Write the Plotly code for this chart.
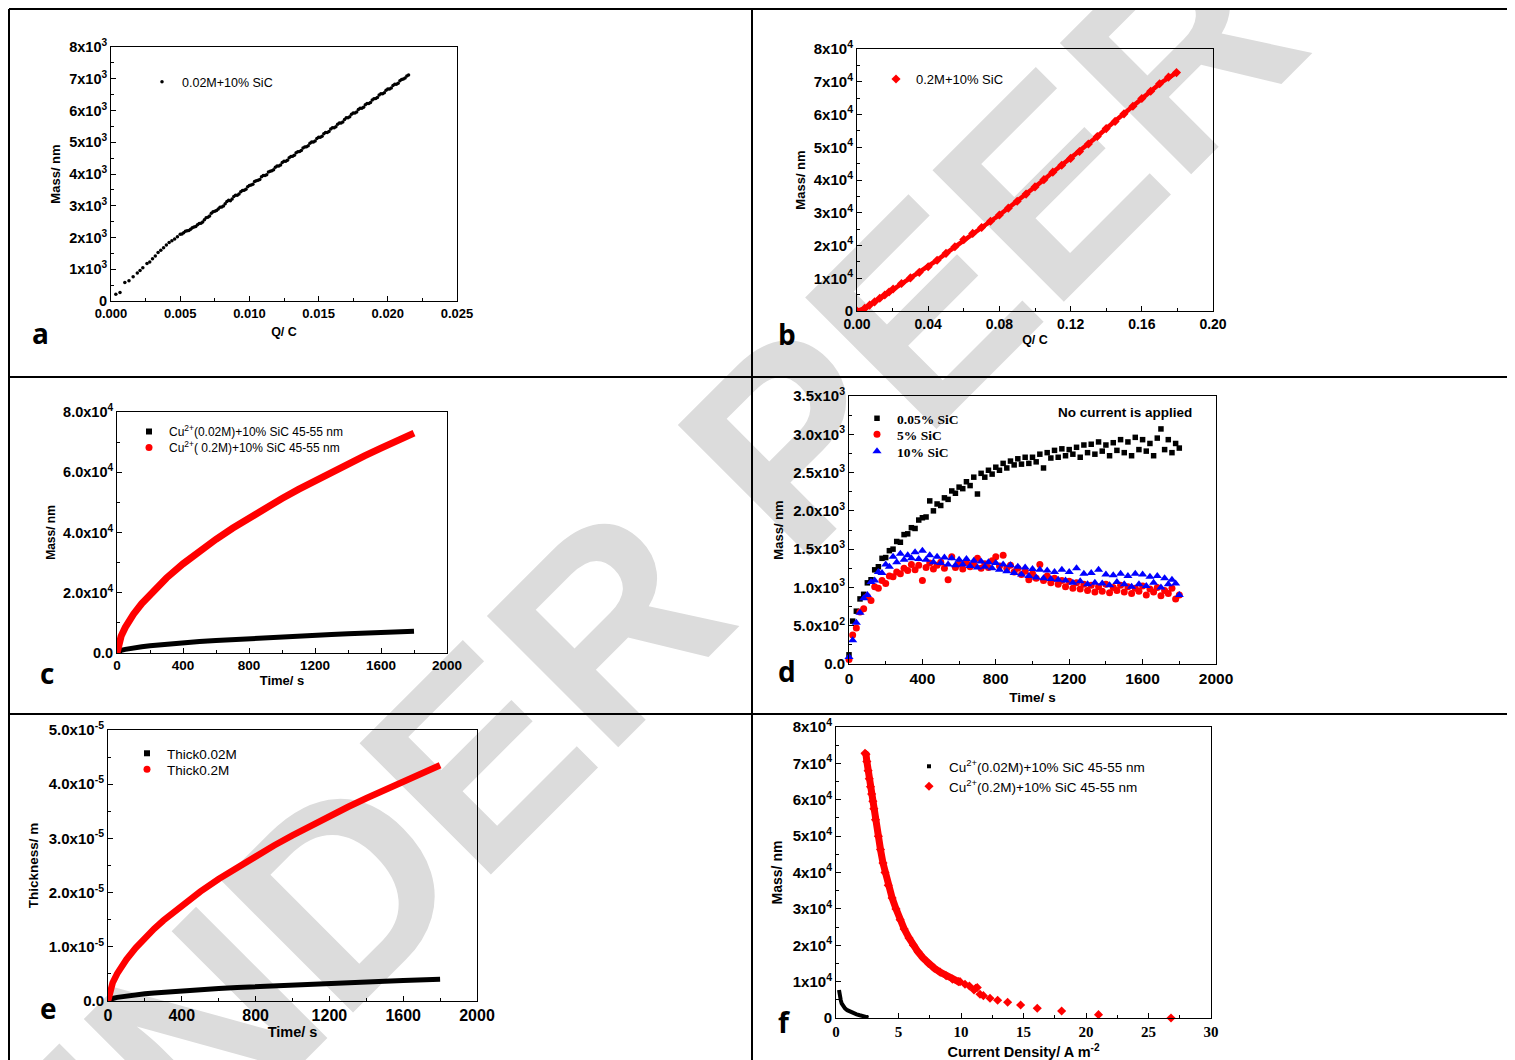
import plotly.graph_objects as go

W, H = 1515, 1060
OFF = 8  # page body margin offset in the browser

# ---------------- data ----------------
# (a) mass vs charge, 0.02M + 10% SiC
a_charge = [0.00035, 0.00065, 0.0010, 0.0013, 0.0016, 0.0019, 0.0021, 0.0023, 0.0026, 0.0028,
            0.0030, 0.0032, 0.0034, 0.0036, 0.0038, 0.0040, 0.0042, 0.0044, 0.0046, 0.0048, 0.0050,
            0.00525, 0.0055, 0.00575, 0.0060, 0.00625, 0.0065, 0.00675, 0.0070, 0.00725, 0.0075,
            0.00775, 0.0080, 0.00825, 0.0085, 0.00875, 0.0090, 0.00925, 0.0095, 0.00975, 0.0100,
            0.01025, 0.0105, 0.01075, 0.0110, 0.01125, 0.0115, 0.01175, 0.0120, 0.01225, 0.0125,
            0.01275, 0.0130, 0.01325, 0.0135, 0.01375, 0.0140, 0.01425, 0.0145, 0.01475, 0.0150,
            0.01525, 0.0155, 0.01575, 0.0160, 0.01625, 0.0165, 0.01675, 0.0170, 0.01725, 0.0175,
            0.01775, 0.0180, 0.01825, 0.0185, 0.01875, 0.0190, 0.01925, 0.0195, 0.01975, 0.0200,
            0.02025, 0.0205, 0.02075, 0.0210, 0.02125, 0.0215]
a_mass = [210, 265, 580, 640, 760, 880, 960, 1050, 1180, 1230,
          1330, 1420, 1530, 1600, 1680, 1760, 1840, 1900, 1950, 2020, 2100,
          2150, 2210, 2260, 2330, 2400, 2450, 2560, 2640, 2760, 2830,
          2900, 2960, 3060, 3170, 3210, 3330, 3370, 3480, 3520, 3640,
          3680, 3790, 3830, 3950, 3980, 4090, 4130, 4250, 4280, 4400,
          4430, 4550, 4590, 4700, 4740, 4850, 4890, 5010, 5040, 5160,
          5190, 5310, 5340, 5460, 5490, 5610, 5640, 5770, 5800, 5920,
          5950, 6070, 6100, 6220, 6250, 6370, 6410, 6530, 6560, 6680,
          6710, 6830, 6860, 6980, 7020, 7120]
a_charge_mid = [0.005125, 0.005375, 0.005625, 0.005875, 0.006125, 0.006375, 0.006625, 0.006875,
                0.007125, 0.007375, 0.007625, 0.007875, 0.008125, 0.008375, 0.008625, 0.008875,
                0.009125, 0.009375, 0.009625, 0.009875, 0.010125, 0.010375, 0.010625, 0.010875,
                0.011125, 0.011375, 0.011625, 0.011875, 0.012125, 0.012375, 0.012625, 0.012875,
                0.013125, 0.013375, 0.013625, 0.013875, 0.014125, 0.014375, 0.014625, 0.014875,
                0.015125, 0.015375, 0.015625, 0.015875, 0.016125, 0.016375, 0.016625, 0.016875,
                0.017125, 0.017375, 0.017625, 0.017875, 0.018125, 0.018375, 0.018625, 0.018875,
                0.019125, 0.019375, 0.019625, 0.019875, 0.020125, 0.020375, 0.020625, 0.020875,
                0.021125, 0.021375]
a_mass_mid = [2110, 2200, 2220, 2310, 2350, 2440, 2490, 2620, 2680, 2810, 2850, 2950, 2990, 3130,
              3160, 3290, 3330, 3440, 3490, 3600, 3650, 3760, 3800, 3910, 3950, 4060, 4100, 4210,
              4250, 4360, 4400, 4510, 4560, 4670, 4710, 4820, 4860, 4970, 5010, 5120, 5160, 5270,
              5310, 5420, 5460, 5570, 5610, 5720, 5770, 5880, 5920, 6030, 6070, 6180, 6220, 6330,
              6380, 6490, 6530, 6640, 6680, 6790, 6830, 6940, 6990, 7090]

# (b) mass vs charge, 0.2M + 10% SiC
b_charge = [0.0, 0.0043, 0.0071, 0.0099, 0.0128, 0.0156, 0.018, 0.0203, 0.025, 0.030, 0.035,
            0.040, 0.045, 0.050, 0.055, 0.060, 0.065, 0.070, 0.075, 0.080, 0.085, 0.090, 0.095,
            0.100, 0.105, 0.110, 0.115, 0.120, 0.125, 0.130, 0.135, 0.140, 0.145, 0.150, 0.155,
            0.160, 0.165, 0.170, 0.175, 0.1795]
b_mass = [0, 800, 1800, 2800, 3900, 4900, 5800, 6700, 8400, 10100, 11800,
          13500, 15500, 17600, 19600, 21800, 23700, 25500, 27400, 29300, 31400, 33500, 35700,
          37900, 40100, 42400, 44500, 46600, 48700, 51000, 53300, 55700, 57900, 60200, 62500,
          64900, 67100, 69400, 71400, 72800]

# (c) & (e) time series
ce_time = [0, 10, 25, 50, 75, 100, 150, 200, 250, 300, 400, 500, 600, 700, 800, 900, 1000,
           1100, 1200, 1300, 1400, 1500, 1600, 1700, 1800]
c_mass_002 = [0, 536, 849, 1200, 1470, 1697, 2078, 2400, 2683, 2939, 3394, 3795, 4157, 4490,
              4800, 5091, 5367, 5628, 5879, 6119, 6350, 6573, 6788, 6997, 7200]
c_mass_02 = [0, 3230, 5610, 8500, 10840, 12890, 16430, 19540, 22340, 24910, 29600, 33860, 37760,
             41420, 44870, 48160, 51300, 54330, 57240, 60060, 62780, 65440, 68020, 70540, 73000]
e_thick_002 = [0, 0.298e-6, 0.472e-6, 0.667e-6, 0.816e-6, 0.943e-6, 1.155e-6, 1.333e-6, 1.491e-6,
               1.633e-6, 1.886e-6, 2.108e-6, 2.310e-6, 2.494e-6, 2.667e-6, 2.828e-6, 2.982e-6,
               3.127e-6, 3.266e-6, 3.399e-6, 3.528e-6, 3.651e-6, 3.771e-6, 3.887e-6, 4.0e-6]
e_thick_02 = [0, 0.193e-5, 0.334e-5, 0.506e-5, 0.646e-5, 0.768e-5, 0.979e-5, 1.164e-5, 1.331e-5,
              1.485e-5, 1.764e-5, 2.018e-5, 2.250e-5, 2.468e-5, 2.674e-5, 2.870e-5, 3.057e-5,
              3.237e-5, 3.411e-5, 3.579e-5, 3.741e-5, 3.899e-5, 4.053e-5, 4.203e-5, 4.35e-5]

# (d) no current applied
d_time = [0, 20, 40, 60, 80, 100, 120, 140, 160, 180, 200, 220, 240, 260, 280, 300, 320, 340, 360,
          380, 400, 420, 440, 460, 480, 500, 520, 540, 560, 580, 600, 620, 640, 660, 680, 700, 720,
          740, 760, 780, 800, 820, 840, 860, 880, 900, 920, 940, 960, 980, 1000, 1020, 1040, 1060,
          1080, 1100, 1120, 1140, 1160, 1180, 1200, 1220, 1240, 1260, 1280, 1300, 1320, 1340, 1360,
          1380, 1400, 1420, 1440, 1460, 1480, 1500, 1520, 1540, 1560, 1580, 1600, 1620, 1640, 1660,
          1680, 1700, 1720, 1740, 1760, 1780, 1800]
d_sic005 = [120, 560, 690, 850, 910, 1060, 1100, 1230, 1270, 1380, 1390, 1480, 1500, 1600, 1590,
            1690, 1700, 1780, 1770, 1880, 1910, 1920, 2130, 2000, 2090, 2070, 2170, 2150, 2260, 2230,
            2310, 2290, 2380, 2330, 2440, 2220, 2490, 2440, 2530, 2480, 2570, 2530, 2620, 2560, 2650,
            2600, 2680, 2610, 2700, 2620, 2700, 2640, 2740, 2560, 2760, 2690, 2790, 2700, 2810, 2720,
            2800, 2740, 2830, 2700, 2860, 2760, 2870, 2740, 2900, 2780, 2860, 2720, 2890, 2790, 2930,
            2760, 2900, 2720, 2960, 2800, 2930, 2780, 2880, 2720, 2950, 3070, 2800, 2930, 2760, 2880,
            2820]
d_sic5 = [60, 380, 470, 680, 720, 880, 830, 1010, 990, 1090, 1050, 1150, 1140, 1200, 1180, 1250,
          1220, 1300, 1230, 1290, 1090, 1260, 1320, 1240, 1290, 1330, 1250, 1100, 1400, 1260, 1310,
          1240, 1330, 1270, 1300, 1380, 1250, 1310, 1260, 1350, 1400, 1280, 1420, 1250, 1290, 1200,
          1250, 1170, 1210, 1100, 1180, 1120, 1300, 1090, 1150, 1060, 1120, 1040, 1090, 1010, 1080,
          990, 1060, 980, 1040, 960, 1030, 940, 1010, 950, 1040, 930, 1000, 960, 1030, 940, 1010,
          920, 990, 950, 1020, 900, 980, 940, 1000, 890, 960, 920, 990, 850, 900]
d_sic10 = [90, 310, 540, 670, 860, 900, 1070, 1090, 1200, 1190, 1300, 1270, 1400, 1330, 1440, 1360,
           1420, 1380, 1460, 1370, 1480, 1360, 1420, 1330, 1400, 1320, 1390, 1300, 1380, 1290, 1360,
           1300, 1370, 1280, 1350, 1260, 1340, 1270, 1330, 1250, 1320, 1230, 1300, 1210, 1290, 1190,
           1270, 1170, 1260, 1150, 1240, 1130, 1230, 1120, 1220, 1110, 1200, 1100, 1230, 1090, 1200,
           1060, 1250, 1080, 1180, 1040, 1190, 1060, 1230, 1050, 1170, 1030, 1160, 1070, 1180, 1040,
           1150, 1010, 1180, 1040, 1170, 1020, 1140, 1060, 1150, 1000, 1120, 1040, 1100, 1050, 900]

# (f) mass vs current density
f_cd_002 = [0.24, 0.27, 0.32, 0.38, 0.45, 0.55, 0.72, 0.90, 1.12, 1.40, 1.65, 1.90, 2.19, 2.45, 2.60]
f_mass_002 = [7700, 6800, 5870, 4900, 4040, 3300, 2660, 2150, 1740, 1330, 1010, 760, 550, 280, 120]
f_cd_02_dense = [2.32, 2.40, 2.47, 2.57, 2.66, 2.76, 2.85, 2.95, 3.03, 3.16, 3.39, 3.56, 3.76, 3.92,
                 4.18, 4.49, 4.80, 5.13, 5.45, 5.84, 6.19, 6.56, 6.97, 7.39, 7.86, 8.33, 8.81, 9.31,
                 9.79]
f_mass_02_dense = [72800, 72500, 70500, 68000, 65800, 63600, 61600, 59600, 57500, 54500, 50000,
                   46300, 42600, 40000, 36500, 33000, 30000, 27000, 24500, 22000, 20000, 18200,
                   16500, 15000, 13700, 12600, 11600, 10700, 10000]
f_cd_02_sparse = [9.92, 10.32, 10.67, 11.04, 11.17, 11.30, 11.52, 11.79, 12.32, 12.93, 13.73, 14.77,
                  16.10, 18.05, 21.0, 26.8]
f_mass_02_sparse = [10000, 9270, 8800, 7700, 8170, 8400, 6510, 6150, 5410, 4860, 4310, 3580, 2660,
                    1930, 920, 0]

# tick labels
a_xticks = [0, 0.005, 0.010, 0.015, 0.020, 0.025]
a_xlabels = ["0.000", "0.005", "0.010", "0.015", "0.020", "0.025"]
a_yticks = [0, 1000, 2000, 3000, 4000, 5000, 6000, 7000, 8000]
a_ylabels = ["0"] + ["%dx10<sup>3</sup>" % k for k in range(1, 9)]
b_xticks = [0, 0.04, 0.08, 0.12, 0.16, 0.20]
b_xlabels = ["0.00", "0.04", "0.08", "0.12", "0.16", "0.20"]
b_yticks = [0, 1e4, 2e4, 3e4, 4e4, 5e4, 6e4, 7e4, 8e4]
b_ylabels = ["0"] + ["%dx10<sup>4</sup>" % k for k in range(1, 9)]
t_ticks = [0, 400, 800, 1200, 1600, 2000]
t_labels = ["0", "400", "800", "1200", "1600", "2000"]
c_yticks = [0, 2e4, 4e4, 6e4, 8e4]
c_ylabels = ["0.0", "2.0x10<sup>4</sup>", "4.0x10<sup>4</sup>", "6.0x10<sup>4</sup>", "8.0x10<sup>4</sup>"]
d_yticks = [0, 500, 1000, 1500, 2000, 2500, 3000, 3500]
d_ylabels = ["0.0", "5.0x10<sup>2</sup>", "1.0x10<sup>3</sup>", "1.5x10<sup>3</sup>", "2.0x10<sup>3</sup>",
             "2.5x10<sup>3</sup>", "3.0x10<sup>3</sup>", "3.5x10<sup>3</sup>"]
e_yticks = [0, 1e-5, 2e-5, 3e-5, 4e-5, 5e-5]
e_ylabels = ["0.0", "1.0x10<sup>-5</sup>", "2.0x10<sup>-5</sup>", "3.0x10<sup>-5</sup>",
             "4.0x10<sup>-5</sup>", "5.0x10<sup>-5</sup>"]
f_xticks = [0, 5, 10, 15, 20, 25, 30]
f_xlabels = ["0", "5", "10", "15", "20", "25", "30"]
f_yticks = b_yticks
f_ylabels = b_ylabels

# ---------------- layout helpers ----------------
SANS = "Liberation Sans"
SERIF = "Liberation Serif"
RED = "#ff0000"
BLUE = "#0000ff"


def PX(x):
    return (x - OFF) / W


def PY(y):
    return 1 - (y - OFF) / H


def dom_x(l, r):
    return [PX(l), PX(r)]


def dom_y(t, b):
    return [PY(b), PY(t)]


def mids(vals):
    return [(vals[i] + vals[i + 1]) / 2 for i in range(len(vals) - 1)]


def axis(dom, anchor, rng, tv, tt, title, tsize=13, tfam=SANS, titsize=11, standoff=4):
    return dict(domain=dom, anchor=anchor, range=rng, tickmode="array", tickvals=tv, ticktext=tt,
                automargin=False,
                ticks="inside", ticklen=5, tickwidth=1, tickcolor="black",
                minor=dict(tickmode="array", tickvals=mids(tv), ticks="inside", ticklen=3,
                           tickwidth=1, tickcolor="black", showgrid=False),
                showline=True, linecolor="black", linewidth=1, mirror=True,
                showgrid=False, zeroline=False,
                tickfont=dict(family=tfam, size=tsize, color="black", weight="bold"),
                title=dict(text=title, standoff=standoff,
                           font=dict(family=SANS, size=titsize, color="black", weight="bold")))


def legend(sx, sy, size=12, fam=SANS, weight="normal"):
    return dict(x=PX(sx - 21), y=PY(sy - 14), xanchor="left", yanchor="top",
                bgcolor="rgba(0,0,0,0)", borderwidth=0,
                font=dict(family=fam, size=size, color="black", weight=weight))


fig = go.Figure()

# (a)
fig.add_trace(go.Scatter(x=a_charge + a_charge_mid, y=a_mass + a_mass_mid, mode="markers",
                         name="0.02M+10% SiC",
                         marker=dict(color="black", size=3.5, symbol="circle"),
                         xaxis="x", yaxis="y", legend="legend"))
# (b)
fig.add_trace(go.Scatter(x=b_charge, y=b_mass, mode="lines+markers", showlegend=False,
                         line=dict(color=RED, width=4.5),
                         marker=dict(color=RED, size=7, symbol="diamond"),
                         xaxis="x2", yaxis="y2"))
fig.add_trace(go.Scatter(x=[None], y=[None], mode="markers", name="0.2M+10% SiC",
                         marker=dict(color=RED, size=7, symbol="diamond"),
                         xaxis="x2", yaxis="y2", legend="legend2"))
# (c)
fig.add_trace(go.Scatter(x=ce_time, y=c_mass_002, mode="lines", showlegend=False,
                         line=dict(color="black", width=5), xaxis="x3", yaxis="y3"))
fig.add_trace(go.Scatter(x=ce_time, y=c_mass_02, mode="lines", showlegend=False,
                         line=dict(color=RED, width=7), xaxis="x3", yaxis="y3"))
fig.add_trace(go.Scatter(x=[None], y=[None], mode="markers",
                         name="Cu<sup>2+</sup>(0.02M)+10% SiC 45-55 nm",
                         marker=dict(color="black", size=6, symbol="square"),
                         xaxis="x3", yaxis="y3", legend="legend3"))
fig.add_trace(go.Scatter(x=[None], y=[None], mode="markers",
                         name="Cu<sup>2+</sup>( 0.2M)+10% SiC 45-55 nm",
                         marker=dict(color=RED, size=7, symbol="circle"),
                         xaxis="x3", yaxis="y3", legend="legend4"))
# (d)
fig.add_trace(go.Scatter(x=d_time, y=d_sic005, mode="markers", name="0.05% SiC",
                         marker=dict(color="black", size=5.5, symbol="square"),
                         xaxis="x4", yaxis="y4", legend="legend5", cliponaxis=False))
fig.add_trace(go.Scatter(x=d_time, y=d_sic5, mode="markers", name="5% SiC",
                         marker=dict(color=RED, size=7, symbol="circle"),
                         xaxis="x4", yaxis="y4", legend="legend6", cliponaxis=False))
fig.add_trace(go.Scatter(x=d_time, y=d_sic10, mode="markers", name="10% SiC",
                         marker=dict(color=BLUE, size=8, symbol="triangle-up"),
                         xaxis="x4", yaxis="y4", legend="legend7", cliponaxis=False))
# (e)
fig.add_trace(go.Scatter(x=ce_time, y=e_thick_002, mode="lines", showlegend=False,
                         line=dict(color="black", width=5), xaxis="x5", yaxis="y5"))
fig.add_trace(go.Scatter(x=ce_time, y=e_thick_02, mode="lines", showlegend=False,
                         line=dict(color=RED, width=6.5), xaxis="x5", yaxis="y5"))
fig.add_trace(go.Scatter(x=[None], y=[None], mode="markers", name="Thick0.02M",
                         marker=dict(color="black", size=6, symbol="square"),
                         xaxis="x5", yaxis="y5", legend="legend8"))
fig.add_trace(go.Scatter(x=[None], y=[None], mode="markers", name="Thick0.2M",
                         marker=dict(color=RED, size=7, symbol="circle"),
                         xaxis="x5", yaxis="y5", legend="legend9"))
# (f)
fig.add_trace(go.Scatter(x=f_cd_002, y=f_mass_002, mode="lines", showlegend=False,
                         line=dict(color="black", width=4), xaxis="x6", yaxis="y6"))
fig.add_trace(go.Scatter(x=f_cd_02_dense, y=f_mass_02_dense, mode="lines+markers", showlegend=False,
                         line=dict(color=RED, width=7),
                         marker=dict(color=RED, size=7, symbol="diamond"),
                         xaxis="x6", yaxis="y6"))
fig.add_trace(go.Scatter(x=f_cd_02_sparse, y=f_mass_02_sparse, mode="markers", showlegend=False,
                         marker=dict(color=RED, size=7, symbol="diamond"),
                         xaxis="x6", yaxis="y6", cliponaxis=False))
fig.add_trace(go.Scatter(x=[None], y=[None], mode="markers",
                         name="Cu<sup>2+</sup>(0.02M)+10% SiC 45-55 nm",
                         marker=dict(color="black", size=4, symbol="square"),
                         xaxis="x6", yaxis="y6", legend="legend10"))
fig.add_trace(go.Scatter(x=[None], y=[None], mode="markers",
                         name="Cu<sup>2+</sup>(0.2M)+10% SiC 45-55 nm",
                         marker=dict(color=RED, size=7, symbol="diamond"),
                         xaxis="x6", yaxis="y6", legend="legend11"))

layout = dict(
    width=W, height=H, margin=dict(l=0, r=0, t=0, b=0, autoexpand=False),
    paper_bgcolor="white", plot_bgcolor="rgba(0,0,0,0)", showlegend=True,
    xaxis=axis(dom_x(111, 457), "y", [0, 0.025], a_xticks, a_xlabels, "Q/ C", tsize=13,
               titsize=12.5, standoff=7),
    yaxis=axis(dom_y(47, 301), "x", [0, 8000], a_yticks, a_ylabels, "Mass/ nm", tsize=14.5,
               titsize=13, standoff=5),
    xaxis2=axis(dom_x(857, 1213), "y2", [0, 0.20], b_xticks, b_xlabels, "Q/ C", tsize=14,
                titsize=12.5, standoff=4),
    yaxis2=axis(dom_y(49, 311), "x2", [0, 80000], b_yticks, b_ylabels, "Mass/ nm", tsize=15,
                titsize=13, standoff=5),
    xaxis3=axis(dom_x(117, 447), "y3", [0, 2000], t_ticks, t_labels, "Time/ s", tsize=13.5,
                titsize=13, standoff=1),
    yaxis3=axis(dom_y(412, 653), "x3", [0, 80000], c_yticks, c_ylabels, "Mass/ nm", tsize=14.5,
                titsize=12, standoff=4),
    xaxis4=axis(dom_x(849, 1216), "y4", [0, 2000], t_ticks, t_labels, "Time/ s", tsize=15.5,
                titsize=13.5, standoff=6),
    yaxis4=axis(dom_y(396, 664), "x4", [0, 3500], d_yticks, d_ylabels, "Mass/ nm", tsize=15,
                titsize=13, standoff=6),
    xaxis5=axis(dom_x(108, 477), "y5", [0, 2000], t_ticks, t_labels, "Time/ s", tsize=16,
                titsize=14.5, standoff=0),
    yaxis5=axis(dom_y(730, 1001), "x5", [0, 5e-5], e_yticks, e_ylabels, "Thickness/ m", tsize=15,
                titsize=13.5, standoff=7),
    xaxis6=axis(dom_x(836, 1211), "y6", [0, 30], f_xticks, f_xlabels,
                "Current Density/ A m<sup>-2</sup>", tsize=15, tfam=SERIF, titsize=14.5, standoff=7),
    yaxis6=axis(dom_y(727, 1018), "x6", [0, 80000], f_yticks, f_ylabels, "Mass/ nm", tsize=15,
                titsize=14, standoff=6),
    legend=legend(163, 81, 12.5),
    legend2=legend(897, 78, 13),
    legend3=legend(150, 431, 12),
    legend4=legend(150, 447, 12),
    legend5=legend(878, 417, 13.5, SERIF, "bold"),
    legend6=legend(878, 433, 13.5, SERIF, "bold"),
    legend7=legend(878, 450, 13.5, SERIF, "bold"),
    legend8=legend(148, 752, 13.5),
    legend9=legend(148, 768, 13.5),
    legend10=legend(930, 765, 13.5),
    legend11=legend(930, 785, 13.5),
)
fig.update_layout(**layout)

# watermark (drawn below the data)
fig.add_shape(type="rect", xref="paper", yref="paper", x0=PX(918), x1=PX(1100), y0=PY(230),
              y1=PY(145), line=dict(width=0), fillcolor="rgba(0,0,0,0)", layer="below",
              label=dict(text="UNDER PEER REVIEW", textangle=-45, textposition="middle center",
                         font=dict(family=SANS, size=270, color="#dcdcdc", weight="bold")))

# table grid lines
for (x0, y0, x1, y1) in [(9, 9, 1509, 9), (9, 377, 1509, 377), (9, 714, 1509, 714),
                         (9, 9, 9, 1068), (1509, 9, 1509, 1068), (752, 9, 752, 1068)]:
    fig.add_shape(type="line", xref="paper", yref="paper", x0=PX(x0), x1=PX(x1),
                  y0=PY(y0), y1=PY(y1), line=dict(color="black", width=2), layer="above")

# panel letters
for letter, px, py in [("a", 40, 333), ("b", 787, 334), ("c", 47, 673), ("d", 787, 671),
                       ("e", 48, 1008), ("f", 784, 1022)]:
    fig.add_annotation(text=letter, x=PX(px), y=PY(py), xref="paper", yref="paper",
                       showarrow=False, xanchor="center", yanchor="middle",
                       font=dict(family="Open Sans", size=28, color="black", weight="bold"))

fig.add_annotation(text="No current is applied", x=PX(1125), y=PY(413), xref="paper",
                   yref="paper", showarrow=False, xanchor="center", yanchor="middle",
                   font=dict(family=SANS, size=13.5, color="black", weight="bold"))

fig.write_html("out.html")
